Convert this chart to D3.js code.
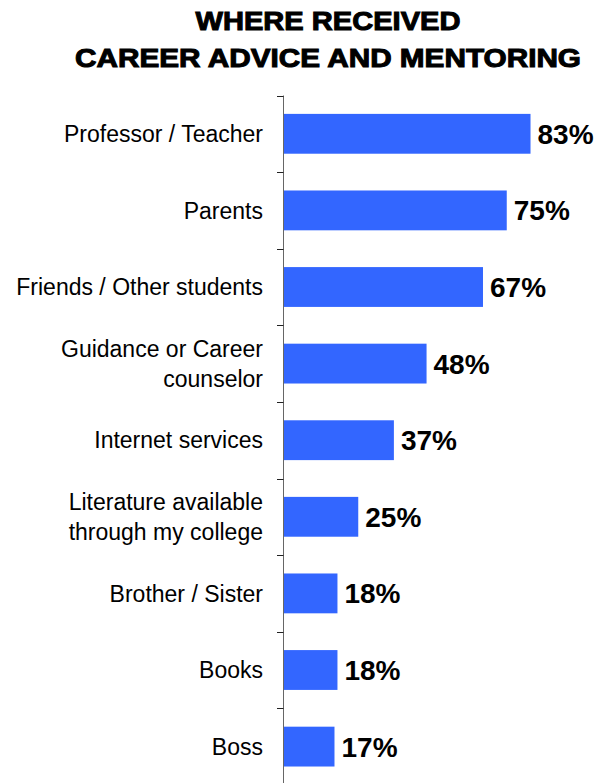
<!DOCTYPE html>
<html>
<head>
<meta charset="utf-8">
<script src="https://cdn.jsdelivr.net/npm/d3@7"></script>
<style>
  html, body { margin: 0; padding: 0; background: #fff; }
  svg { display: block; }
</style>
</head>
<body>
<svg id="chart" width="599" height="783"></svg>
<script>
const titleLines = ["WHERE RECEIVED", "CAREER ADVICE AND MENTORING"];
const categories = [
  "Professor / Teacher",
  "Parents",
  "Friends / Other students",
  "Guidance or Career\ncounselor",
  "Internet services",
  "Literature available\nthrough my college",
  "Brother / Sister",
  "Books",
  "Boss"
];
const values = [83, 75, 67, 48, 37, 25, 18, 18, 17];
const valueLabels = ["83%", "75%", "67%", "48%", "37%", "25%", "18%", "18%", "17%"];

(function () {
const svg = d3.select("#chart");
const axisX = 283.5;
const plotTop = 95.5, step = 76.6;

const y = d3.scaleBand()
  .domain(categories)
  .range([plotTop, plotTop + step * categories.length])
  .paddingInner(0.48)
  .paddingOuter(0.24);

const x = d3.scaleLinear().domain([0, 100]).range([284, 284 + 297]);

// Title
const titleWidths = [265, 506];
const titleBase = [29.5, 67];
svg.append("g").selectAll("text").data(titleLines).join("text")
  .attr("x", 328)
  .attr("y", (d, i) => titleBase[i])
  .attr("text-anchor", "middle")
  .attr("textLength", (d, i) => titleWidths[i])
  .attr("lengthAdjust", "spacingAndGlyphs")
  .style("font-family", "'Liberation Sans', Arial, sans-serif")
  .style("font-weight", 900)
  .style("font-size", "25.5px")
  .style("stroke", "#000")
  .style("stroke-width", "1px")
  .style("fill", "#000")
  .text(d => d);

// Bars
svg.append("g").selectAll("rect").data(values).join("rect")
  .attr("x", x(0))
  .attr("y", (d, i) => y(categories[i]))
  .attr("width", d => x(d) - x(0))
  .attr("height", y.bandwidth())
  .attr("fill", "#3366FF");

// Axis line and ticks
const axisG = svg.append("g");
axisG.append("line")
  .attr("x1", axisX).attr("x2", axisX)
  .attr("y1", y.range()[0]).attr("y2", 783)
  .attr("stroke", "#666").attr("stroke-width", 1);
const tickYs = d3.range(categories.length + 1).map(i => y.range()[0] + i * y.step());
axisG.selectAll("line.tick").data(tickYs).join("line")
  .attr("class", "tick")
  .attr("x1", axisX - 6.5).attr("x2", axisX)
  .attr("y1", d => Math.round(d) + 0.5).attr("y2", d => Math.round(d) + 0.5)
  .attr("stroke", "#222").attr("stroke-width", 1);

// Category labels
const catG = svg.append("g");
categories.forEach((c, i) => {
  const lines = c.split("\n");
  const cy = y(c) + y.bandwidth() / 2;
  const lh = 30;
  const t = catG.append("text")
    .attr("text-anchor", "end")
    .style("font-family", "'Liberation Sans', Arial, sans-serif")
    .style("font-size", "23px")
    .style("fill", "#000");
  lines.forEach((ln, j) => {
    t.append("tspan")
      .attr("x", 263)
      .attr("y", cy + (j - (lines.length - 1) / 2) * lh)
      .attr("dy", "0.36em")
      .text(ln);
  });
});

// Value labels
svg.append("g").selectAll("text").data(values).join("text")
  .attr("x", d => x(d) + 7)
  .attr("y", (d, i) => y(categories[i]) + y.bandwidth() / 2)
  .attr("dy", "0.36em")
  .style("font-family", "'Liberation Sans', Arial, sans-serif")
  .style("font-weight", "bold")
  .style("font-size", "28px")
  .style("fill", "#000")
  .text((d, i) => valueLabels[i]);
})();
</script>
</body>
</html>
